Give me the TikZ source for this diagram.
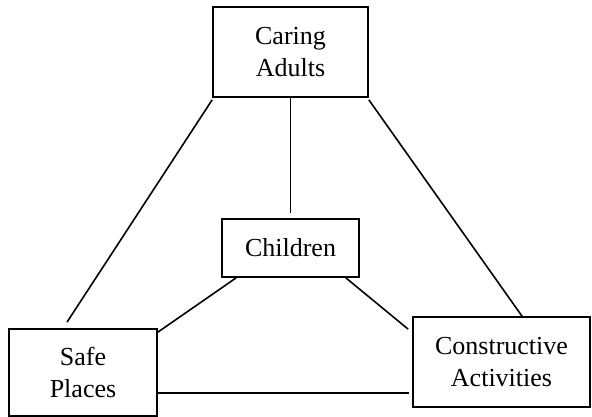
\documentclass[tikz,border=0pt]{standalone}
\usepackage{fontspec}
\setmainfont{Liberation Serif}
\begin{document}
\begin{tikzpicture}[x=1pt,y=-1pt,
  box/.style={draw, line width=1.7pt, inner sep=0pt, align=center,
    font=\fontsize{26}{32}\selectfont},
  link/.style={line width=1.6pt}]
\useasboundingbox (0,0) rectangle (592,417);
\node[box, minimum width=155pt, minimum height=90pt] (ca) at (290.5,52) {Caring\\Adults};
\node[box, minimum width=137pt, minimum height=58pt] (ch) at (290.5,248) {Children};
\node[box, minimum width=148pt, minimum height=87pt] (sp) at (83,372.5) {Safe\\Places};
\node[box, minimum width=177pt, minimum height=90pt] (co) at (501.5,362) {Constructive\\Activities};
\draw[link] ([yshift=-2pt]ca.south west) -- ([xshift=-16pt,yshift=6pt]sp.north);
\draw[link] ([yshift=-2pt]ca.south east) -- ([xshift=20.5pt]co.north);
\draw[link] (ca.south) -- ([yshift=5pt]ch.north);
\draw[link] ([xshift=15pt]ch.south west) -- ([yshift=-4pt]sp.north east);
\draw[link] ([xshift=-14pt]ch.south east) -- ([xshift=-4pt,yshift=-13pt]co.north west);
\draw[link] ([yshift=-20.5pt]sp.east) -- ([xshift=-3pt,yshift=-31pt]co.west);
\end{tikzpicture}
\end{document}
